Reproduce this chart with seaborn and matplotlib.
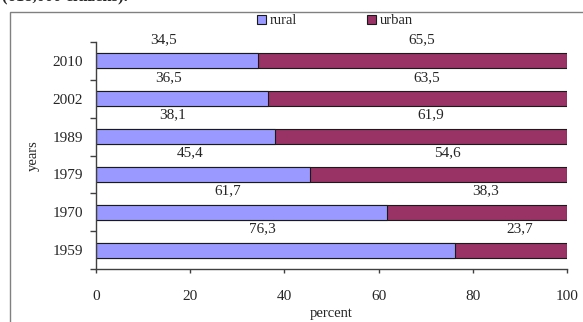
import matplotlib
matplotlib.use("Agg")
import matplotlib.pyplot as plt
from matplotlib.patches import Patch, Rectangle
import pandas as pd
import seaborn as sns

years = ["2010", "2002", "1989", "1979", "1970", "1959"]
rural = [34.5, 36.5, 38.1, 45.4, 61.7, 76.3]
urban = [65.5, 63.5, 61.9, 54.6, 38.3, 23.7]

rural_color = "#9999FF"
urban_color = "#993366"
edge = "#1a1a1a"

df = pd.DataFrame({"year": years, "rural": rural, "urban": urban})
df["total"] = df["rural"] + df["urban"]

sns.set_style("white")
plt.rcParams["font.family"] = ["Liberation Serif", "DejaVu Serif"]

fig = plt.figure(figsize=(5.83, 3.22), dpi=100)
ax = fig.add_axes([96 / 583, 1 - 269 / 322, (567 - 96) / 583, (269 - 42) / 322])

# stacked: full bar in urban colour, rural drawn over it
sns.barplot(data=df, x="total", y="year", order=years, orient="h", color=urban_color,
            saturation=1, width=0.4, edgecolor=edge, linewidth=0.8, ax=ax)
sns.barplot(data=df, x="rural", y="year", order=years, orient="h", color=rural_color,
            saturation=1, width=0.4, edgecolor=edge, linewidth=0.8, ax=ax)

for i, (r, u) in enumerate(zip(rural, urban)):
    ax.annotate(f"{r:.1f}".replace(".", ","), xy=(r / 2, i - 0.2), xytext=(-9.5, 10),
                textcoords="offset points", ha="center", va="center", fontsize=11)
    ax.annotate(f"{u:.1f}".replace(".", ","), xy=(r + u / 2, i - 0.2), xytext=(6.5, 10),
                textcoords="offset points", ha="center", va="center", fontsize=11)

ax.set_xlim(0, 100)
ax.set_ylim(5.5, -0.5)
ax.set_xticks([0, 20, 40, 60, 80, 100])
ax.set_yticks(range(len(years)))
ax.set_yticklabels(years)
ax.set_yticks([k - 0.5 for k in range(len(years) + 1)], minor=True)
ax.tick_params(axis="y", which="major", length=0, pad=9.5, labelsize=11)
ax.tick_params(axis="y", which="minor", left=True, length=4.5, width=1, color="#404040", direction="out")
ax.tick_params(axis="x", which="major", bottom=True, length=3, width=1, color="#404040",
               pad=12, labelsize=11)

for s in ["top", "right"]:
    ax.spines[s].set_visible(False)
for s in ["left", "bottom"]:
    ax.spines[s].set_color("#404040")
    ax.spines[s].set_linewidth(1)

ax.set_xlabel("percent", fontsize=10.5, labelpad=3)
ax.set_ylabel("years", fontsize=10.5, labelpad=9)

handles = [Patch(facecolor=rural_color, edgecolor=edge, linewidth=0.8, label="rural"),
           Patch(facecolor=urban_color, edgecolor=edge, linewidth=0.8, label="urban")]
fig.legend(handles=handles, loc="center", bbox_to_anchor=(335 / 583, 1 - 21 / 322), ncol=2,
           frameon=False, handlelength=0.6, handleheight=0.6, handletextpad=0.25,
           columnspacing=4.8, fontsize=10.5)

# chart frame and the clipped caption above it
fig.add_artist(Rectangle((10 / 583, -0.1), 1.2, 1.1 - 12 / 322, transform=fig.transFigure,
                         fill=False, edgecolor="#808080", linewidth=1))
fig.text(2 / 583, 1 - 0.5 / 322, "(618,000 citizens).", fontsize=12, fontweight="bold",
         va="baseline")

fig.savefig("out.png", dpi=100)
